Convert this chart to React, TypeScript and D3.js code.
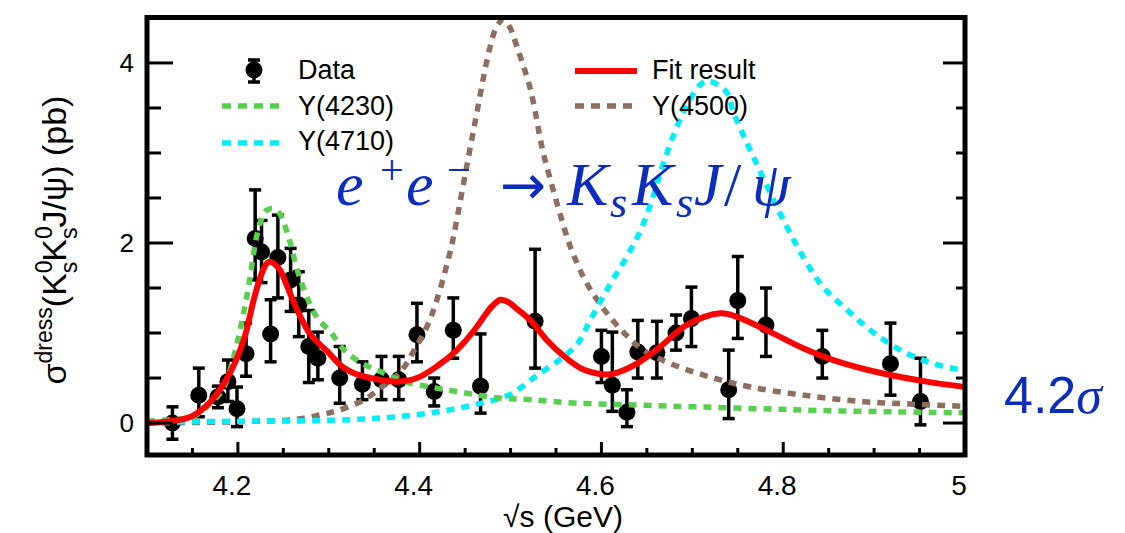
import React from "react";
import * as d3 from "d3";

// Measured dressed cross section of e+e- -> Ks Ks J/psi
const energies = [4.128, 4.157, 4.178, 4.189, 4.199, 4.209, 4.219, 4.226, 4.236, 4.244, 4.258, 4.267, 4.278, 4.288, 4.312, 4.337, 4.358, 4.377, 4.397, 4.416, 4.437, 4.467, 4.527, 4.600, 4.612, 4.628, 4.640, 4.661, 4.682, 4.699, 4.740, 4.750, 4.781, 4.843, 4.918, 4.951];
const sigma = [0.00, 0.31, 0.29, 0.46, 0.16, 0.77, 2.05, 1.90, 0.99, 1.84, 1.59, 1.31, 0.85, 0.72, 0.50, 0.43, 0.48, 0.48, 0.98, 0.35, 1.03, 0.41, 1.13, 0.74, 0.42, 0.12, 0.79, 0.78, 1.00, 1.16, 0.37, 1.36, 1.09, 0.74, 0.66, 0.24];
const errUp = [0.18, 0.30, 0.12, 0.24, 0.24, 0.34, 0.54, 0.35, 0.38, 0.47, 0.35, 0.37, 0.40, 0.29, 0.35, 0.25, 0.26, 0.26, 0.35, 0.15, 0.36, 0.58, 0.80, 0.29, 0.59, 0.25, 0.35, 0.35, 0.20, 0.35, 0.44, 0.49, 0.41, 0.29, 0.45, 0.48];
const errDown = [0.18, 0.24, 0.12, 0.22, 0.20, 0.25, 0.46, 0.34, 0.31, 0.45, 0.35, 0.35, 0.40, 0.24, 0.28, 0.17, 0.22, 0.22, 0.30, 0.16, 0.31, 0.30, 0.52, 0.29, 0.29, 0.16, 0.29, 0.28, 0.19, 0.31, 0.32, 0.42, 0.35, 0.24, 0.35, 0.26];

// Total fit
const fitE = [4.100, 4.125, 4.148, 4.170, 4.192, 4.207, 4.218, 4.227, 4.234, 4.245, 4.255, 4.266, 4.280, 4.299, 4.313, 4.324, 4.346, 4.375, 4.397, 4.419, 4.441, 4.463, 4.472, 4.480, 4.489, 4.498, 4.508, 4.522, 4.540, 4.559, 4.577, 4.595, 4.605, 4.614, 4.639, 4.665, 4.694, 4.731, 4.749, 4.786, 4.822, 4.855, 4.910, 4.958, 5.000];
const fitV = [0.00, 0.02, 0.07, 0.24, 0.57, 0.94, 1.39, 1.68, 1.79, 1.72, 1.50, 1.24, 0.98, 0.79, 0.64, 0.57, 0.50, 0.46, 0.50, 0.63, 0.81, 1.07, 1.20, 1.30, 1.37, 1.34, 1.26, 1.14, 0.92, 0.74, 0.61, 0.55, 0.54, 0.55, 0.66, 0.85, 1.09, 1.22, 1.18, 1.01, 0.83, 0.70, 0.55, 0.46, 0.40];

// Y(4230) component
const y4230E = [4.100, 4.130, 4.150, 4.165, 4.183, 4.192, 4.203, 4.212, 4.222, 4.231, 4.238, 4.245, 4.255, 4.266, 4.278, 4.288, 4.302, 4.317, 4.337, 4.357, 4.383, 4.412, 4.441, 4.485, 4.522, 4.573, 4.640, 4.703, 4.770, 4.837, 4.920, 5.000];
const y4230V = [0.02, 0.04, 0.07, 0.17, 0.37, 0.61, 1.06, 1.53, 2.13, 2.36, 2.38, 2.34, 2.09, 1.68, 1.35, 1.16, 1.01, 0.81, 0.66, 0.57, 0.46, 0.40, 0.35, 0.28, 0.26, 0.22, 0.20, 0.18, 0.16, 0.14, 0.125, 0.113];

// Y(4500) component
const y4500E = [4.100, 4.200, 4.263, 4.290, 4.310, 4.339, 4.357, 4.379, 4.394, 4.408, 4.419, 4.434, 4.438, 4.456, 4.463, 4.471, 4.478, 4.485, 4.492, 4.499, 4.507, 4.522, 4.533, 4.537, 4.562, 4.570, 4.584, 4.603, 4.625, 4.646, 4.676, 4.720, 4.764, 4.822, 4.885, 4.943, 5.000];
const y4500V = [0.00, 0.015, 0.04, 0.09, 0.14, 0.26, 0.39, 0.57, 0.81, 1.07, 1.37, 1.92, 2.11, 3.08, 3.45, 3.88, 4.20, 4.41, 4.48, 4.40, 4.18, 3.70, 3.14, 2.96, 2.07, 1.85, 1.55, 1.26, 1.00, 0.81, 0.66, 0.51, 0.40, 0.31, 0.24, 0.21, 0.185];

// Y(4710) component
const y4710E = [4.100, 4.200, 4.302, 4.376, 4.423, 4.463, 4.500, 4.529, 4.559, 4.575, 4.588, 4.610, 4.628, 4.643, 4.657, 4.668, 4.690, 4.709, 4.718, 4.738, 4.745, 4.767, 4.804, 4.824, 4.844, 4.870, 4.896, 4.929, 4.965, 5.000];
const y4710V = [0.01, 0.02, 0.03, 0.07, 0.13, 0.21, 0.32, 0.53, 0.74, 0.90, 1.15, 1.55, 1.85, 2.14, 2.52, 2.88, 3.45, 3.76, 3.80, 3.67, 3.46, 2.96, 2.18, 1.81, 1.51, 1.26, 1.03, 0.81, 0.66, 0.58];

const xTicks = [4.2, 4.4, 4.6, 4.8, 5.0];
const xTickLabels = ["4.2", "4.4", "4.6", "4.8", "5"];
const yTicks = [0, 2, 4];
const yTickLabels = ["0", "2", "4"];

const C_GREEN = "#58cf4e";
const C_CYAN = "#00eefc";
const C_BROWN = "#8d6e60";
const C_RED = "#ff0000";
const C_BLUE = "#0b2cbd";

const W = 1125;
const H = 533;
const PL = 147, PR = 965, PT = 17.5, PB = 455;

export default function App() {
  const x = d3.scaleLinear().domain([4.1, 5.0]).range([PL, PR]);
  const y = d3.scaleLinear().domain([-0.355, 4.505]).range([PB, PT]);

  const line = d3
    .line<[number, number]>()
    .x((d) => x(d[0]))
    .y((d) => y(d[1]))
    .curve(d3.curveCatmullRom.alpha(0.5));

  const zip = (a: number[], b: number[]) => a.map((v, i) => [v, b[i]] as [number, number]);

  const xMinor = d3.range(4.1, 5.0001, 0.05).map((v) => +v.toFixed(3));
  const yMinor = d3.range(0, 4.5001, 0.5);

  const font = "'Liberation Sans', Arial, Helvetica, sans-serif";
  const serif = "'Liberation Serif', 'DejaVu Serif', serif";

  return (
    <svg
      width={W}
      height={H}
      viewBox={`0 0 ${W} ${H}`}
      style={{ position: "absolute", left: 0, top: 0, background: "#fff" }}
    >
      <defs>
        <clipPath id="plotClip">
          <rect x={PL} y={PT} width={PR - PL} height={PB - PT} />
        </clipPath>
      </defs>

      {/* data points with error bars */}
      <g>
        {energies.map((e, i) => {
          const cx = x(e);
          const cy = y(sigma[i]);
          const yt = y(sigma[i] + errUp[i]);
          const yb = y(sigma[i] - errDown[i]);
          return (
            <g key={i}>
              <line x1={cx} x2={cx} y1={yt} y2={yb} stroke="#000" strokeWidth={3.5} />
              <line x1={cx - 6} x2={cx + 6} y1={yt} y2={yt} stroke="#000" strokeWidth={3.5} />
              <line x1={cx - 6} x2={cx + 6} y1={yb} y2={yb} stroke="#000" strokeWidth={3.5} />
              <circle cx={cx} cy={cy} r={8.5} fill="#000" />
            </g>
          );
        })}
      </g>

      {/* model components and total fit */}
      <g clipPath="url(#plotClip)" fill="none">
        <path d={line(zip(y4500E, y4500V)) || ""} stroke={C_BROWN} strokeWidth={5.5} strokeDasharray="8 7" />
        <path d={line(zip(y4710E, y4710V)) || ""} stroke={C_CYAN} strokeWidth={5.5} strokeDasharray="8 7" />
        <path d={line(zip(y4230E, y4230V)) || ""} stroke={C_GREEN} strokeWidth={5.5} strokeDasharray="8 7" />
        <path d={line(zip(fitE, fitV)) || ""} stroke={C_RED} strokeWidth={6} />
      </g>

      {/* frame */}
      <rect x={PL} y={PT} width={PR - PL} height={PB - PT} fill="none" stroke="#000" strokeWidth={5} />

      {/* ticks */}
      <g stroke="#000" strokeWidth={3}>
        {xMinor.map((v, i) => {
          const major = xTicks.some((t) => Math.abs(t - v) < 1e-6);
          if (v <= 4.1001 || v >= 4.9999) return null;
          const len = major ? 13 : 7;
          return <line key={i} x1={x(v)} x2={x(v)} y1={PB} y2={PB - len} />;
        })}
        {yMinor.map((v, i) => {
          const major = yTicks.includes(v);
          return (
            <g key={i}>
              <line x1={PL} x2={PL + (major ? 26 : 14)} y1={y(v)} y2={y(v)} />
              <line x1={PR} x2={PR - (major ? 22 : 9)} y1={y(v)} y2={y(v)} />
            </g>
          );
        })}
      </g>

      {/* tick labels */}
      <g fontFamily={font} fill="#000">
        {xTicks.map((t, i) => (
          <text key={i} x={x(t) - 6} y={495} textAnchor="middle" fontSize={28}>
            {xTickLabels[i]}
          </text>
        ))}
        {yTicks.map((t, i) => (
          <text key={i} x={134} y={y(t) + 9} textAnchor="end" fontSize={26}>
            {yTickLabels[i]}
          </text>
        ))}
      </g>

      {/* axis titles */}
      <text x={563} y={527} textAnchor="middle" fontFamily={font} fontSize={30}>
        √s (GeV)
      </text>
      <text
        transform="translate(66,240) rotate(-90)"
        textAnchor="middle"
        fontFamily={font}
        fontSize={34}
      >
        <tspan>σ</tspan>
        <tspan dy={-14} fontSize={23}>dress</tspan>
        <tspan dy={14}>(K</tspan>
        <tspan dy={-14} fontSize={23}>0</tspan>
        <tspan dx={-12.8} dy={25} fontSize={23}>s</tspan>
        <tspan dy={-11}>K</tspan>
        <tspan dy={-14} fontSize={23}>0</tspan>
        <tspan dx={-12.8} dy={25} fontSize={23}>s</tspan>
        <tspan dy={-11}>J/ψ) (pb)</tspan>
      </text>

      {/* legend */}
      <g fontFamily={font} fontSize={27}>
        <line x1={254} x2={254} y1={60} y2={82} stroke="#000" strokeWidth={3.5} />
        <line x1={248} x2={260} y1={60} y2={60} stroke="#000" strokeWidth={3.5} />
        <line x1={248} x2={260} y1={82} y2={82} stroke="#000" strokeWidth={3.5} />
        <circle cx={254} cy={70} r={8.5} fill="#000" />
        <text x={298} y={79}>Data</text>

        <line x1={222} x2={282} y1={106} y2={106} stroke={C_GREEN} strokeWidth={5.5} strokeDasharray="9 7" />
        <text x={298} y={115}>Y(4230)</text>

        <line x1={222} x2={282} y1={143} y2={143} stroke={C_CYAN} strokeWidth={5.5} strokeDasharray="9 7" />
        <text x={298} y={150}>Y(4710)</text>

        <line x1={575} x2={637} y1={71} y2={71} stroke={C_RED} strokeWidth={6} />
        <text x={652} y={79}>Fit result</text>

        <line x1={575} x2={635} y1={106} y2={106} stroke={C_BROWN} strokeWidth={5.5} strokeDasharray="9 7" />
        <text x={652} y={115}>Y(4500)</text>
      </g>

      {/* process annotation */}
      <text fontFamily={serif} fontStyle="italic" fontSize={62} fill={C_BLUE}>
        <tspan x={336} y={205}>e</tspan>
        <tspan x={380} y={184} fontSize={42} fontStyle="normal">+</tspan>
        <tspan x={406} y={205}>e</tspan>
        <tspan x={447} y={184} fontSize={42} fontStyle="normal">−</tspan>
        <tspan x={567} y={205}>K</tspan>
        <tspan x={610} y={217} fontSize={44}>s</tspan>
        <tspan x={632} y={205}>K</tspan>
        <tspan x={676} y={217} fontSize={44}>s</tspan>
        <tspan x={694} y={205}>J</tspan>
        <tspan x={724} y={205} fontStyle="normal">/</tspan>
        <tspan x={752} y={205}>ψ</tspan>
      </text>
      <text x={500} y={204} fontFamily="'DejaVu Sans', sans-serif" fontSize={55} fill={C_BLUE}>
        →
      </text>

      {/* significance */}
      <text x={1004} y={413} fill={C_BLUE} fontFamily={font} fontSize={52}>
        4.2
        <tspan fontFamily={serif} fontStyle="italic">σ</tspan>
      </text>
    </svg>
  );
}
